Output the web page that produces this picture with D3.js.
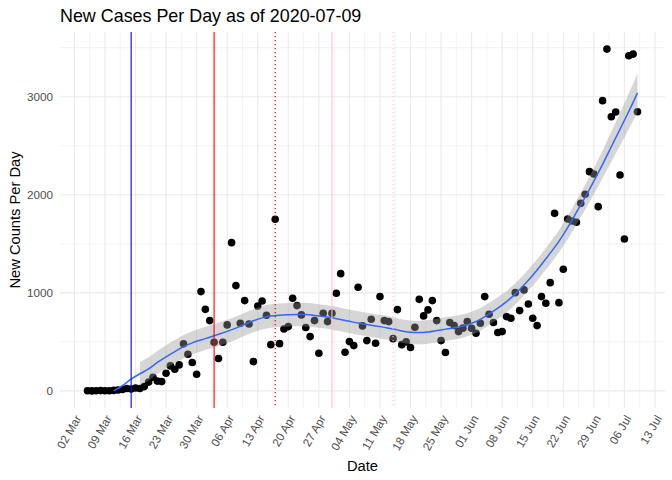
<!DOCTYPE html>
<html>
<head>
<meta charset="utf-8">
<script src="https://cdn.jsdelivr.net/npm/d3@7"></script>
<style>
  body { margin: 0; background: #fff; }
  text { font-family: "Liberation Sans", Arial, sans-serif; }
</style>
</head>
<body>
<script>
let w = 672;
let h = 480;

// daily new cases, first day 2020-03-05
const firstDay = "2020-03-05";
const caseValues = [1, 0, 2, 3, 2, 1, 5, 10, 15, 25, 20, 30, 25,
  44, 90, 140, 100, 95, 180, 255, 221, 265, 480, 374, 289, 170,
  1013, 832, 717, 496, 330, 496, 673, 1512, 1074, 690, 921, 683, 299, 866, 917, 771, 472, 1750, 482, 632, 656,
  945, 870, 775, 646, 554, 717, 384, 792, 707, 792, 996, 1196, 394, 503, 462, 1057, 663, 513, 731, 486, 962,
  717, 707, 533, 829, 472, 500, 442, 649, 934, 765, 826, 921, 717, 513, 391, 697, 666, 605, 640, 707, 639,
  588, 690, 962, 782, 697, 595, 605, 758, 741, 1002, 819, 1030, 887, 741, 666, 962, 894, 1104, 1811, 900,
  1240, 1753, 1733, 1720, 1913, 2005, 2236, 2212, 1879, 2960, 3486, 2796, 2844, 2202, 1549, 3418, 3435, 2847];

// smoothed trend (days after firstDay, fit, band half width)
const smoothDays = [6, 8, 10, 12, 14, 16, 18, 20, 22, 24, 26, 28, 30, 32, 34, 36, 38, 40, 42, 44, 46, 48, 50,
  52, 54, 56, 58, 60, 62, 64, 66, 68, 70, 72, 74, 76, 78, 80, 82, 84, 86, 88, 90, 92, 94, 96, 98, 100,
  102, 104, 106, 108, 110, 112, 114, 116, 118, 120, 122, 124, 126];
const smoothFit = [0, 55, 120, 175, 225, 290, 348, 400, 452, 490, 520, 548, 577, 607, 640, 680, 715, 745, 763,
  772, 777, 780, 778, 770, 758, 745, 728, 710, 692, 678, 663, 648, 632, 612, 598, 596, 602, 615, 630, 645,
  662, 690, 730, 785, 845, 910, 990, 1080, 1180, 1290, 1405, 1525, 1665, 1820, 1975, 2140, 2310, 2490,
  2670, 2850, 3040];
const smoothHalf = [118, 118, 122, 118, 118, 118, 118, 118, 118, 118, 118, 118, 118, 118, 118, 118, 118, 118, 120,
  120, 120, 120, 120, 120, 120, 120, 120, 120, 120, 120, 120, 120, 120, 120, 120, 120, 120, 120, 120, 120,
  120, 118, 116, 114, 112, 110, 108, 108, 108, 110, 112, 114, 118, 122, 128, 134, 142, 154, 167, 182, 198];

// reference dates drawn as vertical lines
const markDates = ["2020-03-15", "2020-04-03", "2020-04-17", "2020-04-30", "2020-05-14"];
const markColors = ["blue", "red", "#a00000", "pink", "pink"];
const markDotted = [false, false, true, false, true];

const yMajor = [0, 1000, 2000, 3000];
const yMinor = [500, 1500, 2500, 3500];

const parse = d3.timeParse("%Y-%m-%d");
const start = parse(firstDay);
const points = caseValues.map((v, i) => ({ date: d3.timeDay.offset(start, i), value: v }));
const smooth = smoothDays.map((d, i) => ({
  date: d3.timeDay.offset(start, d),
  fit: smoothFit[i],
  lo: smoothFit[i] - smoothHalf[i],
  hi: smoothFit[i] + smoothHalf[i]
}));

let svg = d3.select("body")
            .append("svg")
            .attr("width", w)
            .attr("height", h);

// ggplot style 5% expansion
const firstDate = points[0].date, lastDate = points[points.length - 1].date;
const pad = (lastDate - firstDate) * 0.05;
let xScale = d3.scaleTime([new Date(+firstDate - pad), new Date(+lastDate + pad)], [60, 665]);
const yMax = d3.max(caseValues);
let yScale = d3.scaleLinear([-0.05 * yMax, yMax * 1.05], [408, 32]);

const pTop = yScale.range()[1], pBottom = yScale.range()[0];
const pLeft = xScale.range()[0], pRight = xScale.range()[1];

// grid
const xMajor = d3.timeMonday.every(1).range(xScale.domain()[0], xScale.domain()[1]);
const xMinor = [];
xMajor.forEach(d => {
  [-84, 84].forEach(hh => {
    const m = d3.timeHour.offset(d, hh);
    if (m >= xScale.domain()[0] && m <= xScale.domain()[1] && !xMinor.some(e => +e === +m)) xMinor.push(m);
  });
});

let grid = svg.append("g").attr("stroke", "#ebebeb");
grid.selectAll(".ymin").data(yMinor).enter().append("line")
    .attr("x1", pLeft).attr("x2", pRight)
    .attr("y1", d => yScale(d)).attr("y2", d => yScale(d))
    .attr("stroke-width", 0.6);
grid.selectAll(".xmin").data(xMinor).enter().append("line")
    .attr("x1", d => xScale(d)).attr("x2", d => xScale(d))
    .attr("y1", pTop).attr("y2", pBottom)
    .attr("stroke-width", 0.6);
grid.selectAll(".ymaj").data(yMajor).enter().append("line")
    .attr("x1", pLeft).attr("x2", pRight)
    .attr("y1", d => yScale(d)).attr("y2", d => yScale(d))
    .attr("stroke-width", 1.1);
grid.selectAll(".xmaj").data(xMajor).enter().append("line")
    .attr("x1", d => xScale(d)).attr("x2", d => xScale(d))
    .attr("y1", pTop).attr("y2", pBottom)
    .attr("stroke-width", 1.1);

// points
svg.append("g")
   .selectAll("circle")
   .data(points)
   .enter()
   .append("circle")
   .attr("cx", d => xScale(d.date))
   .attr("cy", d => yScale(d.value))
   .attr("r", 3.8)
   .attr("fill", "black");

// confidence band, dropped where it leaves the y limits (like ggplot)
const band = smooth.filter(d => d.lo >= 0);
svg.append("path")
   .datum(band)
   .attr("d", d3.area().x(d => xScale(d.date)).y0(d => yScale(d.lo)).y1(d => yScale(d.hi)).curve(d3.curveMonotoneX))
   .attr("fill", "#999999")
   .attr("fill-opacity", 0.4);

svg.append("path")
   .datum(smooth.filter(d => d.fit >= 0))
   .attr("d", d3.line().x(d => xScale(d.date)).y(d => yScale(d.fit)).curve(d3.curveMonotoneX))
   .attr("fill", "none")
   .attr("stroke", "#3366FF")
   .attr("stroke-width", 1.5);

// vertical date markers
svg.append("g")
   .selectAll("line")
   .data(markDates)
   .enter()
   .append("line")
   .attr("x1", d => xScale(parse(d)))
   .attr("x2", d => xScale(parse(d)))
   .attr("y1", pTop)
   .attr("y2", pBottom)
   .attr("stroke", (d, i) => markColors[i])
   .attr("stroke-width", 1.1)
   .attr("stroke-dasharray", (d, i) => markDotted[i] ? "1.2,2.8" : null);

// axes (text only, theme_minimal)
let fmt = d3.timeFormat("%d %b");
svg.append("g")
   .selectAll("text")
   .data(xMajor)
   .enter()
   .append("text")
   .attr("transform", d => `translate(${xScale(d)},${pBottom + 6}) rotate(-60)`)
   .attr("text-anchor", "end")
   .attr("dy", "0.72em")
   .attr("font-size", 11.7)
   .attr("fill", "#4d4d4d")
   .text(d => fmt(d));

svg.append("g")
   .selectAll("text")
   .data(yMajor)
   .enter()
   .append("text")
   .attr("x", 53)
   .attr("y", d => yScale(d))
   .attr("dy", "0.35em")
   .attr("text-anchor", "end")
   .attr("font-size", 11.7)
   .attr("fill", "#4d4d4d")
   .text(d => d);

svg.append("text")
   .attr("x", (pLeft + pRight) / 2)
   .attr("y", 471)
   .attr("text-anchor", "middle")
   .attr("font-size", 14.7)
   .text("Date");

svg.append("text")
   .attr("transform", `translate(20,${(pTop + pBottom) / 2}) rotate(-90)`)
   .attr("text-anchor", "middle")
   .attr("font-size", 14.7)
   .text("New Counts Per Day");

svg.append("text")
   .attr("x", 60)
   .attr("y", 22)
   .attr("font-size", 17.9)
   .text("New Cases Per Day as of 2020-07-09");
</script>
</body>
</html>
